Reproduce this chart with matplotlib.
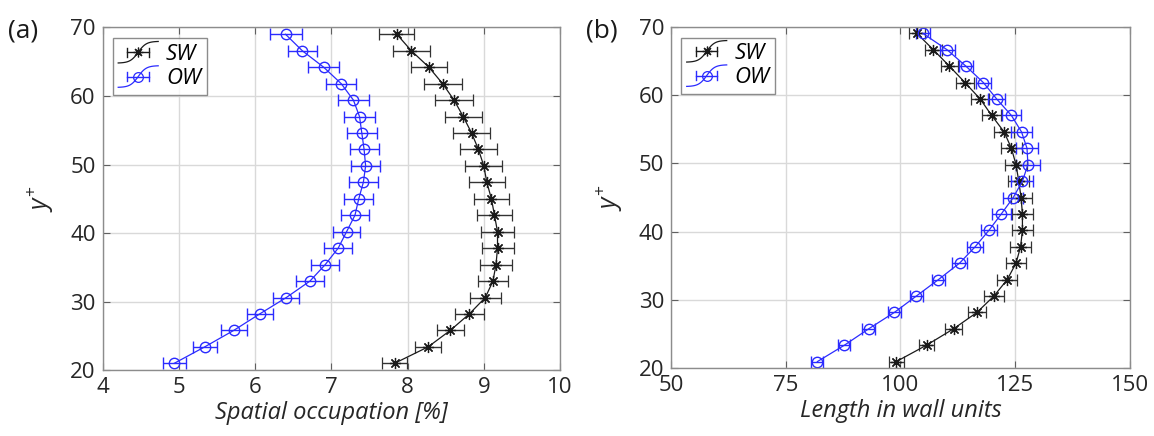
import matplotlib
matplotlib.use("Agg")
import matplotlib.pyplot as plt
import numpy as np
from matplotlib.legend_handler import HandlerBase
from matplotlib.lines import Line2D

plt.rcParams['font.family'] = ['Open Sans', 'DejaVu Sans']
plt.rcParams['mathtext.fontset'] = 'custom'
plt.rcParams['mathtext.it'] = 'Open Sans:italic'
plt.rcParams['mathtext.rm'] = 'Open Sans'

# y+ positions (shared)
yplus = [21.0, 23.4, 25.8, 28.2, 30.6, 33.0, 35.4, 37.8, 40.2, 42.6, 45.0,
         47.4, 49.8, 52.2, 54.6, 57.0, 59.4, 61.8, 64.2, 66.6, 69.0]

# Panel (a): spatial occupation [%]
sw_occ = [7.83, 8.27, 8.56, 8.81, 9.02, 9.12, 9.16, 9.18, 9.18, 9.14, 9.10,
          9.04, 9.00, 8.93, 8.84, 8.73, 8.61, 8.46, 8.28, 8.05, 7.86]
sw_occ_err = [0.16, 0.17, 0.18, 0.19, 0.20, 0.20, 0.21, 0.21, 0.22, 0.23, 0.23,
              0.24, 0.24, 0.24, 0.24, 0.24, 0.25, 0.25, 0.24, 0.24, 0.23]
ow_occ = [4.94, 5.34, 5.72, 6.06, 6.41, 6.72, 6.92, 7.09, 7.20, 7.31, 7.36,
          7.42, 7.45, 7.43, 7.40, 7.37, 7.29, 7.13, 6.90, 6.62, 6.40]
ow_occ_err = [0.15, 0.16, 0.17, 0.17, 0.17, 0.18, 0.18, 0.18, 0.18, 0.18, 0.19,
              0.19, 0.19, 0.19, 0.20, 0.20, 0.20, 0.20, 0.20, 0.19, 0.21]

# Panel (b): length in wall units
sw_len = [99.1, 105.7, 111.6, 116.7, 120.4, 123.3, 125.2, 126.2, 126.6, 126.6, 126.3,
          125.8, 125.2, 124.2, 122.6, 119.9, 117.4, 114.1, 110.7, 107.2, 103.6]
sw_len_err = [1.6, 1.7, 1.9, 2.0, 2.1, 2.2, 2.2, 2.3, 2.3, 2.3, 2.3,
              2.3, 2.3, 2.2, 2.2, 2.1, 2.0, 2.0, 1.9, 1.8, 1.8]
ow_len = [81.9, 87.8, 93.1, 98.7, 103.5, 108.3, 112.9, 116.3, 119.3, 122.0, 124.6,
          126.6, 127.8, 127.6, 126.4, 124.2, 121.0, 118.1, 114.3, 110.2, 104.9]
ow_len_err = [1.3, 1.3, 1.4, 1.4, 1.5, 1.5, 1.6, 1.7, 1.8, 2.0, 2.2,
              2.4, 2.6, 2.4, 2.2, 2.0, 1.8, 1.7, 1.6, 1.6, 1.5]

series_labels = ['SW', 'OW']
xticks_a = [4, 5, 6, 7, 8, 9, 10]
xticks_b = [50, 75, 100, 125, 150]
yticks = [20, 30, 40, 50, 60, 70]

blue = '#2b2bff'
dark = '#1a1a1a'
asterisk = (8, 2, 0)


class SHandle:
    def __init__(self, color, marker, ms, mfc):
        self.color, self.marker, self.ms, self.mfc = color, marker, ms, mfc


class SCurveHandler(HandlerBase):
    def create_artists(self, legend, h, xdescent, ydescent, width, height,
                       fontsize, trans):
        x0 = -xdescent
        yc = height / 2 - ydescent
        xs = np.linspace(0, width, 60)
        ys = yc + 0.7 * height * np.tanh((xs - width / 2) / (width * 0.2))
        curve = Line2D(xs + x0, ys, color=h.color, lw=0.9, transform=trans)
        xm = x0 + width / 2
        hw = width * 0.27
        cap = height * 0.28
        eb = Line2D([xm - hw, xm + hw], [yc, yc], color=h.color, lw=1.0, transform=trans)
        c1 = Line2D([xm - hw] * 2, [yc - cap, yc + cap], color=h.color, lw=1.0, transform=trans)
        c2 = Line2D([xm + hw] * 2, [yc - cap, yc + cap], color=h.color, lw=1.0, transform=trans)
        mk = Line2D([xm], [yc], marker=h.marker, ms=h.ms, mfc=h.mfc, mec=h.color,
                    mew=0.9, ls='none', transform=trans)
        return [curve, eb, c1, c2, mk]


fig = plt.figure(figsize=(11.54, 4.36), dpi=100)
ax_a = fig.add_axes([0.0889, 0.151, 0.3964, 0.786])
ax_b = fig.add_axes([0.5815, 0.155, 0.3975, 0.784])


def style(ax, xlim, xticks, xlabel):
    ax.set_xlim(*xlim)
    ax.set_ylim(20, 70)
    ax.set_xticks(xticks)
    ax.set_yticks(yticks)
    ax.grid(True, color='#d9d9d9', linewidth=1.0)
    ax.set_axisbelow(True)
    for s in ax.spines.values():
        s.set_color('#8c8c8c')
        s.set_linewidth(1.0)
    ax.tick_params(direction='in', length=5, color='#606060', labelsize=16,
                   labelcolor='#262626', top=True, right=True, pad=5)
    ax.set_xlabel(xlabel, fontsize=17, style='italic', color='#262626', labelpad=2)
    ax.set_ylabel(r'$y^{+}$', fontsize=18, color='#262626', labelpad=10)


def draw(ax, sw, swe, ow, owe):
    ax.errorbar(sw, yplus, xerr=swe, color=dark, ecolor='#333333', marker=asterisk,
                markersize=8, linewidth=0.9, elinewidth=1.0, capsize=4, capthick=1.0,
                markerfacecolor=dark, markeredgecolor=dark, markeredgewidth=0.9)
    ax.errorbar(ow, yplus, xerr=owe, color=blue, ecolor=blue, marker='o',
                markersize=7.5, linewidth=0.9, elinewidth=1.0, capsize=4, capthick=1.0,
                markerfacecolor='none', markeredgecolor=blue)
    handles = [SHandle(dark, asterisk, 7, dark), SHandle(blue, 'o', 7, 'none')]
    leg = ax.legend(handles, series_labels, loc='upper left',
                    handler_map={SHandle: SCurveHandler()},
                    prop={'style': 'italic', 'size': 16}, frameon=True, fancybox=False,
                    edgecolor='#707070', borderpad=0.25, handlelength=1.8,
                    labelspacing=0.15, handletextpad=0.35, borderaxespad=0.0,
                    bbox_to_anchor=(0.022, 0.968))
    leg.get_frame().set_linewidth(1.0)


draw(ax_a, sw_occ, sw_occ_err, ow_occ, ow_occ_err)
style(ax_a, (4, 10), xticks_a, 'Spatial occupation [%]')
draw(ax_b, sw_len, sw_len_err, ow_len, ow_len_err)
style(ax_b, (50, 150), xticks_b, 'Length in wall units')

fig.text(0.007, 0.915, '(a)', fontsize=19, color='#1a1a1a')
fig.text(0.508, 0.915, '(b)', fontsize=19, color='#1a1a1a')

fig.savefig('out.png', dpi=100)
